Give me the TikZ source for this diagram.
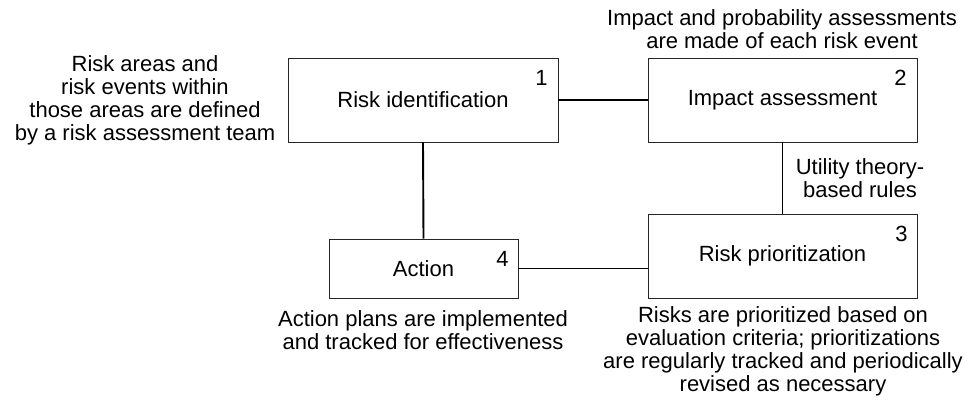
\documentclass[tikz,border=0pt]{standalone}
\usepackage{fontspec}
\setmainfont{Liberation Sans}
\begin{document}
\begin{tikzpicture}[x=1pt,y=-1pt,
  box/.style={draw=black!85, line width=0.9pt, inner sep=0pt, font=\fontsize{22}{23}\selectfont},
  num/.style={inner sep=0pt, font=\fontsize{22}{23}\selectfont},
  note/.style={inner sep=0pt, align=center, font=\fontsize{22}{23}\selectfont},
  link/.style={line width=1.9pt}]
\useasboundingbox (0,0) rectangle (974,401);
% boxes
\node[box, minimum width=270pt, minimum height=84pt] (b1) at (423,100) {Risk identification};
\node[box, minimum width=269pt, minimum height=84pt] (b2) at (782.5,100) {Impact assessment};
\node[box, minimum width=269pt, minimum height=84pt] (b3) at (782.5,256) {Risk prioritization};
\node[box, minimum width=189pt, minimum height=59pt] (b4) at (423.5,268.5) {Action};
% numbers
\node[num] (n1) at ([shift={(-17,20)}]b1.north east) {1};
\node[num] (n2) at ([shift={(-17,20)}]b2.north east) {2};
\node[num] (n3) at ([shift={(-16,20)}]b3.north east) {3};
\node[num] (n4) at ([shift={(-16,20)}]b4.north east) {4};
% connectors
\draw[link] (b1.east) -- (b2.west);
\draw[link] (b1.south) -- (b4.north);
\draw[link] (b2.south) -- (b3.north);
\draw[link] (b4.east) -- (b4.east -| b3.west);
% notes
\node[note] (t1) at (145,100) {Risk areas and\\risk events within\\those areas are defined\\by a risk assessment team};
\node[note] (t2) at (782,29) {Impact and probability assessments\\are made of each risk event};
\node[note] (t3) at (860,178.5) {Utility theory-\\based rules};
\node[note] (t4) at (423,330) {Action plans are implemented\\and tracked for effectiveness};
\node[note] (t5) at (783,351.5) {Risks are prioritized based on\\evaluation criteria; prioritizations\\are regularly tracked and periodically\\revised as necessary};
\end{tikzpicture}
\end{document}
